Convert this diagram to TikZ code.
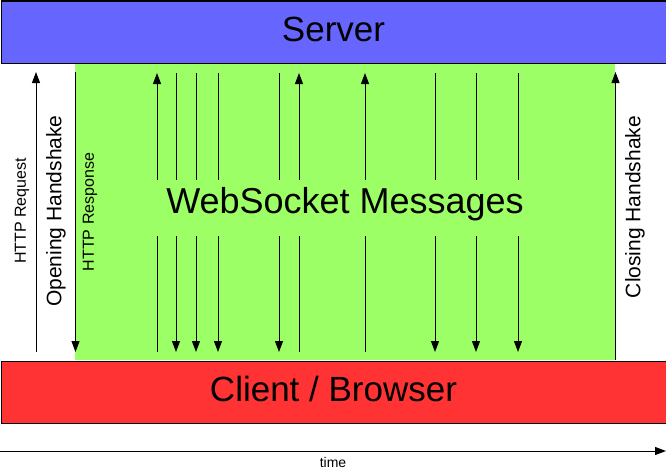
\documentclass[tikz,border=0pt]{standalone}
\usepackage{fontspec}
\setmainfont{Liberation Sans}
\usetikzlibrary{arrows.meta}
\definecolor{serverblue}{RGB}{102,102,255}
\definecolor{clientred}{RGB}{255,51,51}
\definecolor{msggreen}{RGB}{156,255,102}

\begin{document}
\begin{tikzpicture}[x=1pt, y=-1pt,
    msg/.style={line width=1pt, -{Triangle[length=11pt,width=8pt]}},
    plain/.style={line width=1pt},
    band/.style={draw=black, line width=1pt, minimum width=665pt,
      minimum height=62pt, inner sep=0pt, anchor=north west,
      text depth=6pt},
    side/.style={rotate=90, inner sep=0pt}]
    \useasboundingbox (0,0) rectangle (666,471);
    \node[fill=msggreen, minimum width=540pt, minimum height=297pt,
      inner sep=0pt, anchor=north west] (area) at (75,63) {};
    \node[band, fill=serverblue, font=\fontsize{35}{40}\selectfont]
      (server) at (0.5,0.5) {Server};
    \node[band, fill=clientred, font=\fontsize{35}{40}\selectfont]
      (client) at (0.5,360.5) {Client / Browser};
    \node[font=\fontsize{36}{40}\selectfont, inner sep=0pt]
      (messages) at (345,204) {WebSocket Messages};
    \coordinate (reqtop) at (36,72);
    \coordinate (reqbot) at (36,352);
    \coordinate (restop) at (75.5,72);
    \coordinate (resbot) at (75.5,352);
    \coordinate (clotop) at (615.5,72);
    \coordinate (clobot) at (615.5,360);
    \draw[msg] (reqbot) -- (reqtop);
    \draw[msg] (restop) -- (resbot);
    \draw[msg] (clobot) -- (clotop);
    \node[side, font=\fontsize{16}{18}\selectfont] (request) at (22,211)
      {HTTP Request};
    \node[side, font=\fontsize{21}{24}\selectfont] (opening) at (56,211)
      {Opening Handshake};
    \node[side, font=\fontsize{16}{18}\selectfont] (response) at (90,212)
      {HTTP Response};
    \node[side, font=\fontsize{21}{24}\selectfont] (closing) at (635,207)
      {Closing Handshake};
    \foreach \x in {176,196,218,279,435,476,518} {
      \draw[plain] (\x,73) -- (\x,180);
      \draw[msg] (\x,236) -- (\x,352);
    }
    \foreach \x in {157,299,365} {
      \draw[msg] (\x,180) -- (\x,73);
      \draw[plain] (\x,236) -- (\x,352);
    }
    \coordinate (tstart) at (0,451);
    \coordinate (tend) at (666,451);
    \draw[msg] (tstart) -- (tend);
    \node[font=\fontsize{14}{16}\selectfont, inner sep=0pt] (time)
      at (333,462.5) {time};
\end{tikzpicture}
\end{document}
